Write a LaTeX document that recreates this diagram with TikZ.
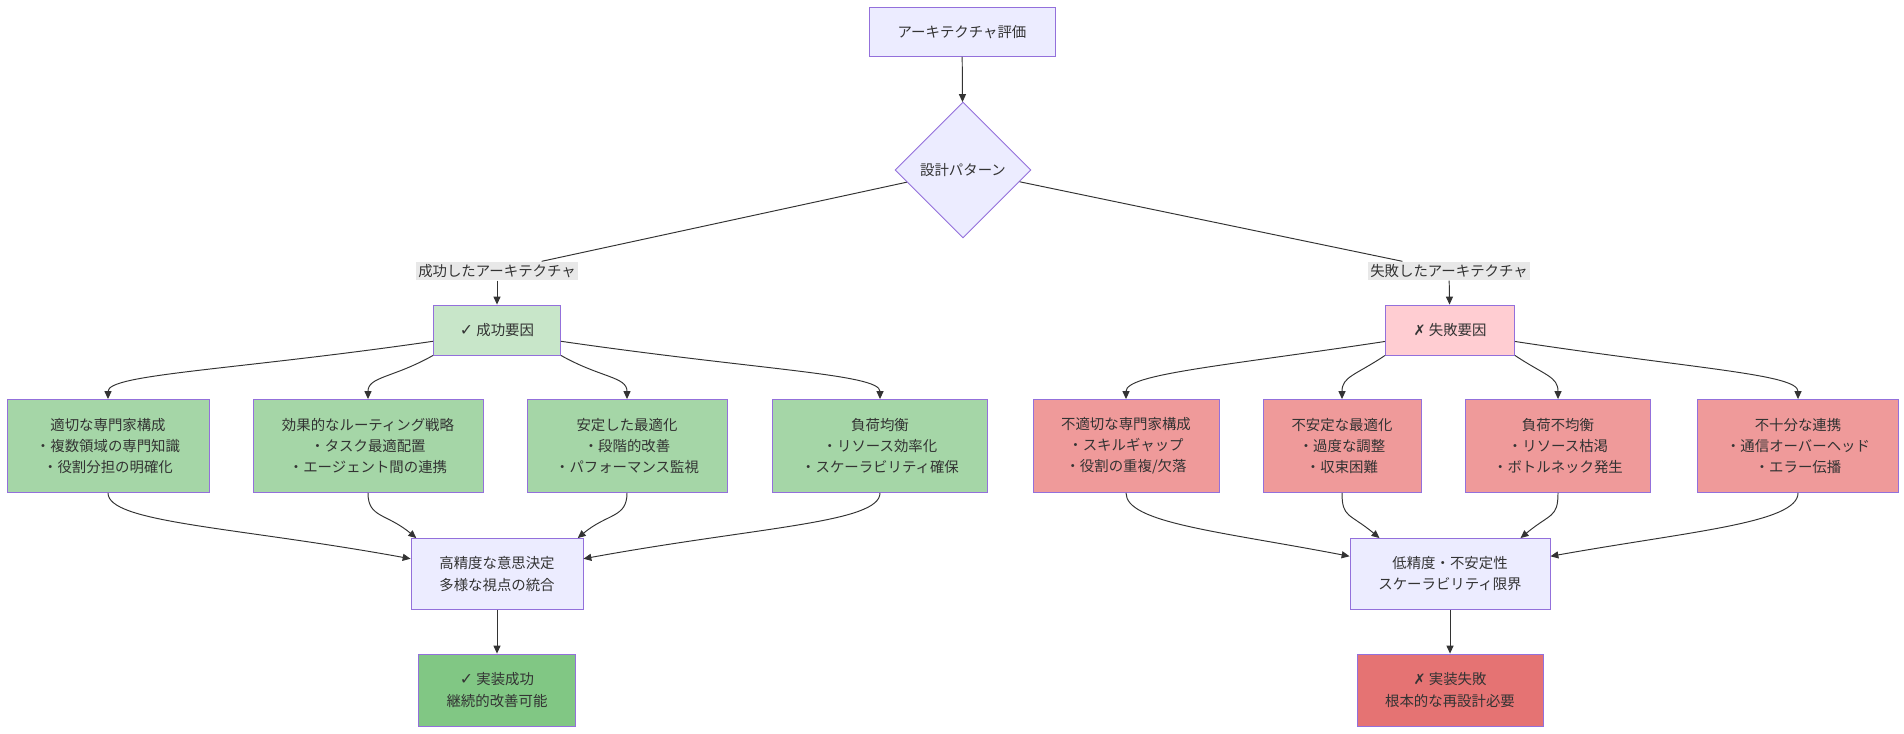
\documentclass[tikz,border=0pt]{standalone}
\usepackage{fontspec}
\setmainfont{Noto Sans CJK JP}
\newfontfamily\symfont{DejaVu Sans}
\usetikzlibrary{shapes.geometric,arrows.meta}
\definecolor{boxfill}{HTML}{ECECFF}
\definecolor{boxline}{HTML}{9370DB}
\definecolor{okpale}{HTML}{C8E6C9}
\definecolor{oklight}{HTML}{A5D6A7}
\definecolor{okdark}{HTML}{81C784}
\definecolor{ngpale}{HTML}{FFCDD2}
\definecolor{nglight}{HTML}{EF9A9A}
\definecolor{ngdark}{HTML}{E57373}
\definecolor{lblfill}{HTML}{E8E8E8}
\definecolor{linecol}{HTML}{333333}
\begin{document}
\begin{tikzpicture}[
  font=\fontsize{8.2}{12}\selectfont, text=linecol,
  box/.style={draw=boxline, line width=0.5pt, fill=boxfill, align=center, inner sep=0pt},
  okbox/.style={box, fill=oklight, minimum height=1.86cm},
  ngbox/.style={box, fill=nglight, minimum height=1.86cm},
  lbl/.style={fill=lblfill, inner sep=1.5pt},
  link/.style={draw=linecol, line width=0.55pt},
  arr/.style={link, -{Triangle[length=4.5pt,width=4pt]}}
]
\useasboundingbox (0,0) rectangle (38.08,-14.66);
\node[box, minimum width=3.72cm, minimum height=0.98cm] (arch) at (19.24,-0.64) {アーキテクチャ評価};
\node[box, diamond, aspect=1, minimum width=2.72cm, minimum height=2.72cm] (dia) at (19.26,-3.40) {設計パターン};
\node[lbl] (lab1) at (9.94,-5.42) {成功したアーキテクチャ};
\node[lbl] (lab2) at (28.98,-5.42) {失敗したアーキテクチャ};
\node[box, fill=okpale, minimum width=2.54cm, minimum height=1.0cm] (sf) at (9.94,-6.60) {{\symfont\small ✓} 成功要因};
\node[box, fill=ngpale, minimum width=2.58cm, minimum height=1.0cm] (ff) at (29.0,-6.60) {{\symfont ✗} 失敗要因};
\node[okbox, minimum width=4.04cm] (s1) at (2.16,-8.92) {適切な専門家構成\\・複数領域の専門知識\\・役割分担の明確化};
\node[okbox, minimum width=4.6cm] (s2) at (7.36,-8.92) {効果的なルーティング戦略\\・タスク最適配置\\・エージェント間の連携};
\node[okbox, minimum width=4.0cm] (s3) at (12.54,-8.92) {安定した最適化\\・段階的改善\\・パフォーマンス監視};
\node[okbox, minimum width=4.3cm] (s4) at (17.6,-8.92) {負荷均衡\\・リソース効率化\\・スケーラビリティ確保};
\node[ngbox, minimum width=3.72cm] (f1) at (22.52,-8.92) {不適切な専門家構成\\・スキルギャップ\\・役割の重複/欠落};
\node[ngbox, minimum width=3.16cm] (f2) at (26.84,-8.92) {不安定な最適化\\・過度な調整\\・収束困難};
\node[ngbox, minimum width=3.7cm] (f3) at (31.16,-8.92) {負荷不均衡\\・リソース枯渇\\・ボトルネック発生};
\node[ngbox, minimum width=4.02cm] (f4) at (35.96,-8.92) {不十分な連携\\・通信オーバーヘッド\\・エラー伝播};
\node[box, minimum width=3.44cm, minimum height=1.42cm] (sm) at (9.94,-11.48) {高精度な意思決定\\多様な視点の統合};
\node[box, minimum width=4.0cm, minimum height=1.42cm] (fm) at (29.0,-11.48) {低精度・不安定性\\スケーラビリティ限界};
\node[box, fill=okdark, minimum width=3.14cm, minimum height=1.44cm] (sr) at (9.94,-13.80) {{\symfont\small ✓} 実装成功\\継続的改善可能};
\node[box, fill=ngdark, minimum width=3.72cm, minimum height=1.44cm] (fr) at (29.0,-13.80) {{\symfont ✗} 実装失敗\\根本的な再設計必要};
\draw[arr] (arch) -- (dia);
\draw[link] (dia) -- (lab1);
\draw[arr] (lab1) -- (sf);
\draw[link] (dia) -- (lab2);
\draw[arr] (lab2) -- (ff);
\draw[arr] (sf.190) .. controls +(-4.0,-0.58) and +(0,0.5) .. (s1.north);
\draw[arr] (sf.south west) .. controls +(-0.8,-0.45) and +(0,0.45) .. (s2.north);
\draw[arr] (sf.south east) .. controls +(0.8,-0.45) and +(0,0.45) .. (s3.north);
\draw[arr] (sf.-10) .. controls +(4.0,-0.58) and +(0,0.5) .. (s4.north);
\draw[arr] (ff.190) .. controls +(-3.3,-0.5) and +(0,0.5) .. (f1.north);
\draw[arr] (ff.south west) .. controls +(-0.6,-0.4) and +(0,0.45) .. (f2.north);
\draw[arr] (ff.south east) .. controls +(0.6,-0.4) and +(0,0.45) .. (f3.north);
\draw[arr] (ff.-10) .. controls +(3.6,-0.55) and +(0,0.5) .. (f4.north);
\draw[arr] (s1.south) .. controls +(0,-0.6) and +(-3.5,0.64) .. (sm.170);
\draw[arr] (s2.south) .. controls +(0,-0.5) and +(-0.6,0.5) .. (sm.156);
\draw[arr] (s3.south) .. controls +(0,-0.5) and +(0.6,0.5) .. (sm.24);
\draw[arr] (s4.south) .. controls +(0,-0.6) and +(3.5,0.64) .. (sm.10);
\draw[arr] (f1.south) .. controls +(0,-0.6) and +(-2.6,0.5) .. (fm.170);
\draw[arr] (f2.south) .. controls +(0,-0.5) and +(-0.6,0.5) .. (fm.153);
\draw[arr] (f3.south) .. controls +(0,-0.5) and +(0.6,0.5) .. (fm.27);
\draw[arr] (f4.south) .. controls +(0,-0.6) and +(2.8,0.5) .. (fm.10);
\draw[arr] (sm) -- (sr);
\draw[arr] (fm) -- (fr);
\end{tikzpicture}
\end{document}
